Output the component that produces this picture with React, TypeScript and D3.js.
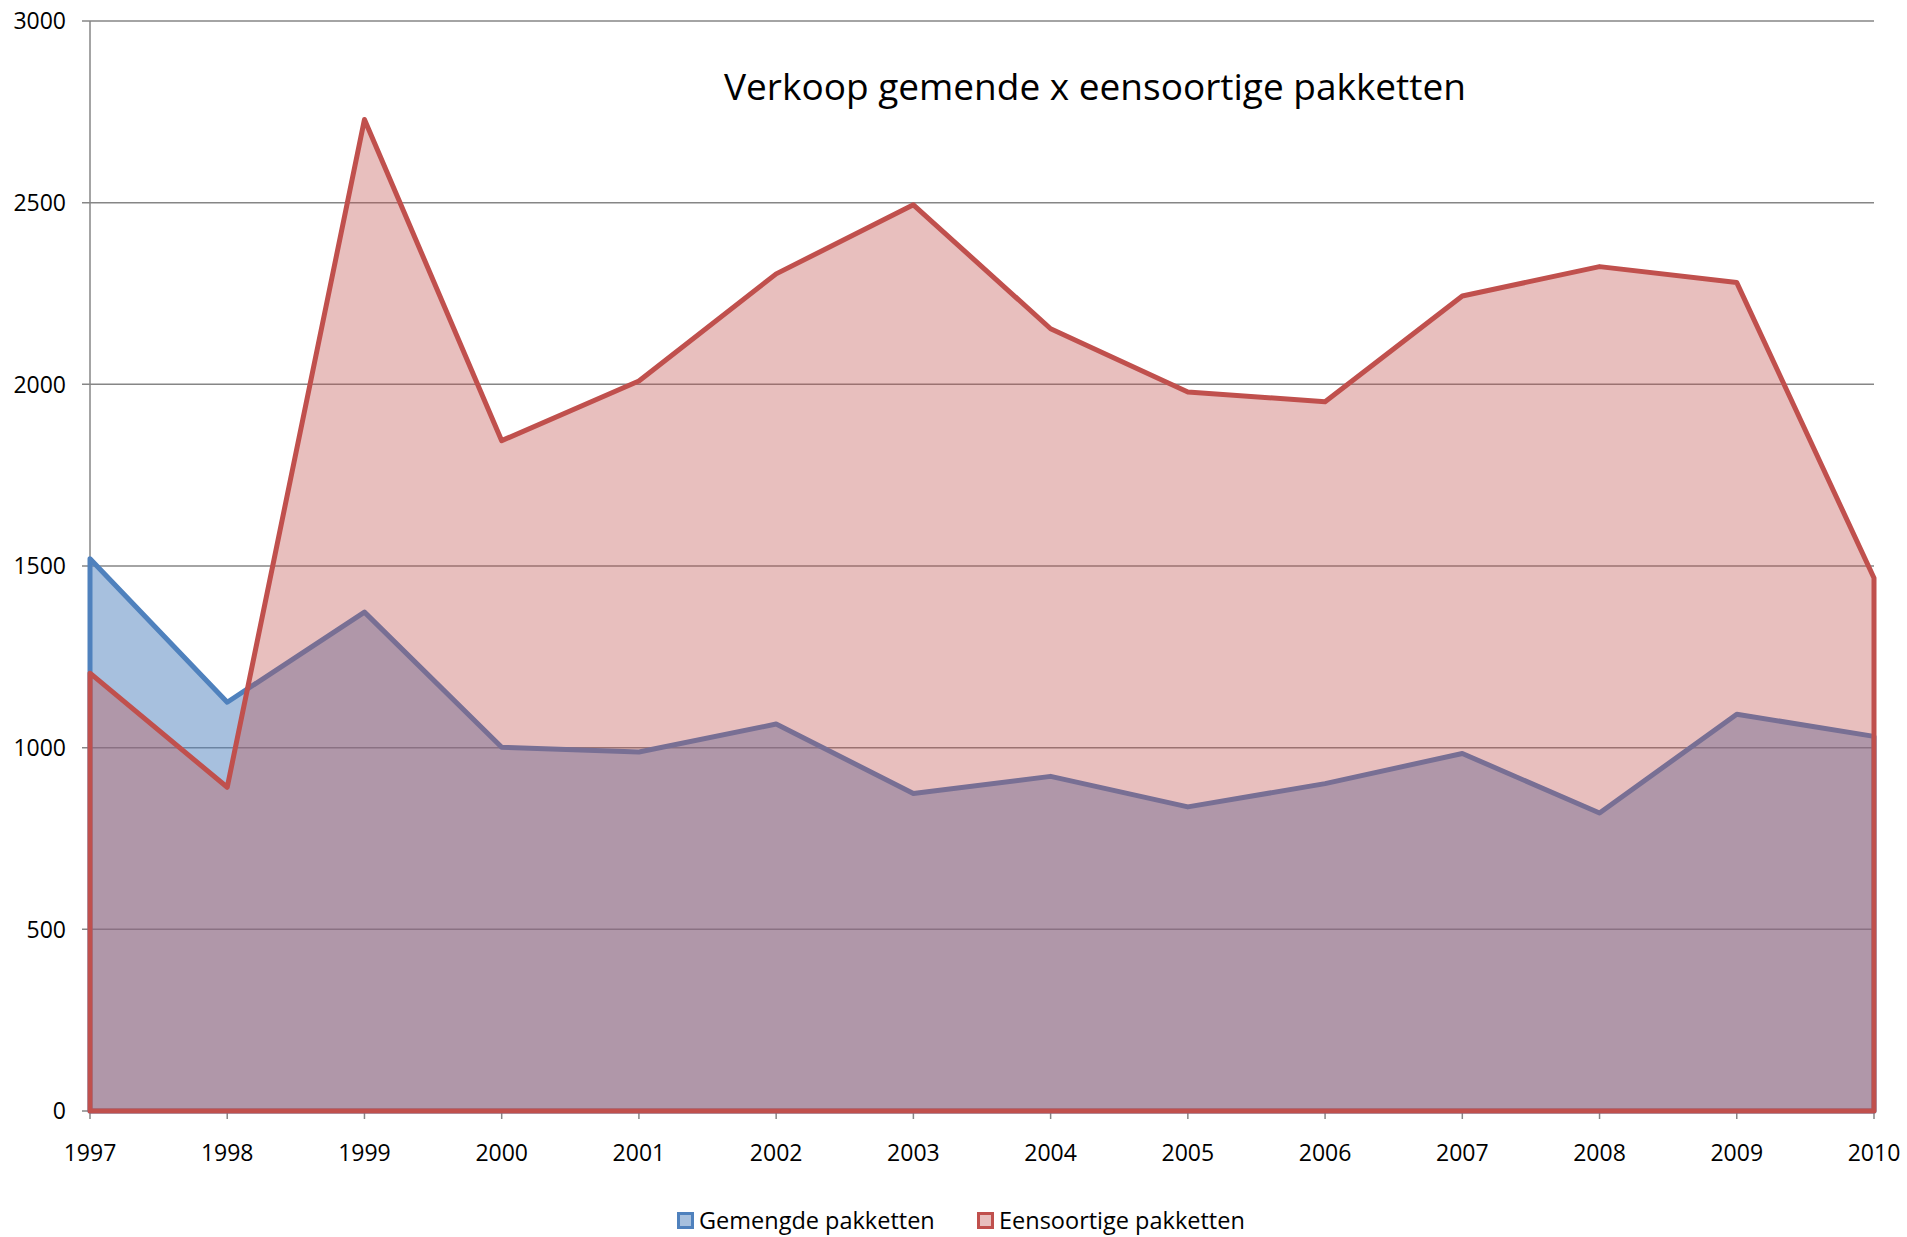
import React from 'react';
import * as d3 from 'd3';

const years = ['1997', '1998', '1999', '2000', '2001', '2002', '2003', '2004', '2005', '2006', '2007', '2008', '2009', '2010'];
const gemengde = [1520, 1125, 1373, 1001, 988, 1065, 874, 921, 837, 901, 984, 820, 1092, 1031];
const eensoortige = [1205, 891, 2729, 1845, 2009, 2304, 2494, 2153, 1979, 1952, 2243, 2324, 2280, 1467];
const yTicks = [0, 500, 1000, 1500, 2000, 2500, 3000];
const seriesNames = ['Gemengde pakketten', 'Eensoortige pakketten'];

const W = 1907;
const H = 1237;
const FONT = '"Open Sans", "Noto Sans", sans-serif';

const App = () => {
    const x = d3.scalePoint<string>().domain(years).range([90, 1874]);
    const y = d3.scaleLinear().domain([0, 3000]).range([1111, 21]);

    const area = d3.area<number>()
        .x((d, i) => x(years[i]) as number)
        .y0(y(0))
        .y1(d => y(d));

    // closed outline like Excel's area border
    const outline = (vals: number[]) => {
        const pts = vals.map((v, i) => [x(years[i]) as number, y(v)]);
        const first = pts[0];
        const last = pts[pts.length - 1];
        const all = [[first[0], y(0)], ...pts, [last[0], y(0)]];
        return 'M' + all.map(p => p.join(',')).join('L') + 'Z';
    };

    const series = [
        { name: seriesNames[0], values: gemengde, color: '#4F81BD', opacity: 0.5 },
        { name: seriesNames[1], values: eensoortige, color: '#C0504D', opacity: 0.365 },
    ];

    const legendX = [677, 977];

    return (
        <svg width={W} height={H} style={{ position: 'absolute', top: 0, left: 0, display: 'block' }} fontFamily={FONT}>
            <rect width={W} height={H} fill="#fff" />
            {yTicks.map(t => (
                <g key={t}>
                    <line x1={82} x2={1874} y1={y(t)} y2={y(t)} stroke="#868686" strokeWidth={1.5} />
                    <text x={66} y={y(t)} dy="0.36em" textAnchor="end" fontSize={23} fill="#000">{t}</text>
                </g>
            ))}
            <line x1={90} x2={90} y1={y(3000)} y2={y(0)} stroke="#868686" strokeWidth={1.5} />
            {years.map(yr => (
                <g key={yr}>
                    <line x1={x(yr)} x2={x(yr)} y1={y(0)} y2={y(0) + 8} stroke="#868686" strokeWidth={1.5} />
                    <text x={x(yr)} y={1161} textAnchor="middle" fontSize={23} fill="#000">{yr}</text>
                </g>
            ))}
            {series.map(s => (
                <g key={s.name}>
                    <path d={area(s.values) as string} fill={s.color} fillOpacity={s.opacity} />
                    <path d={outline(s.values)} fill="none" stroke={s.color} strokeWidth={5} strokeLinejoin="round" />
                </g>
            ))}
            <text x={1095} y={100} textAnchor="middle" fontSize={37} fill="#000">Verkoop gemende x eensoortige pakketten</text>
            {series.map((s, i) => (
                <g key={s.name} transform={`translate(${legendX[i]},1212)`}>
                    <rect x={1.5} y={1.5} width={14} height={14} fill={s.color} fillOpacity={s.opacity} stroke={s.color} strokeWidth={3} />
                    <text x={22} y={9} dy="0.36em" fontSize={23.5} fill="#000">{s.name}</text>
                </g>
            ))}
        </svg>
    );
};

export default App;
